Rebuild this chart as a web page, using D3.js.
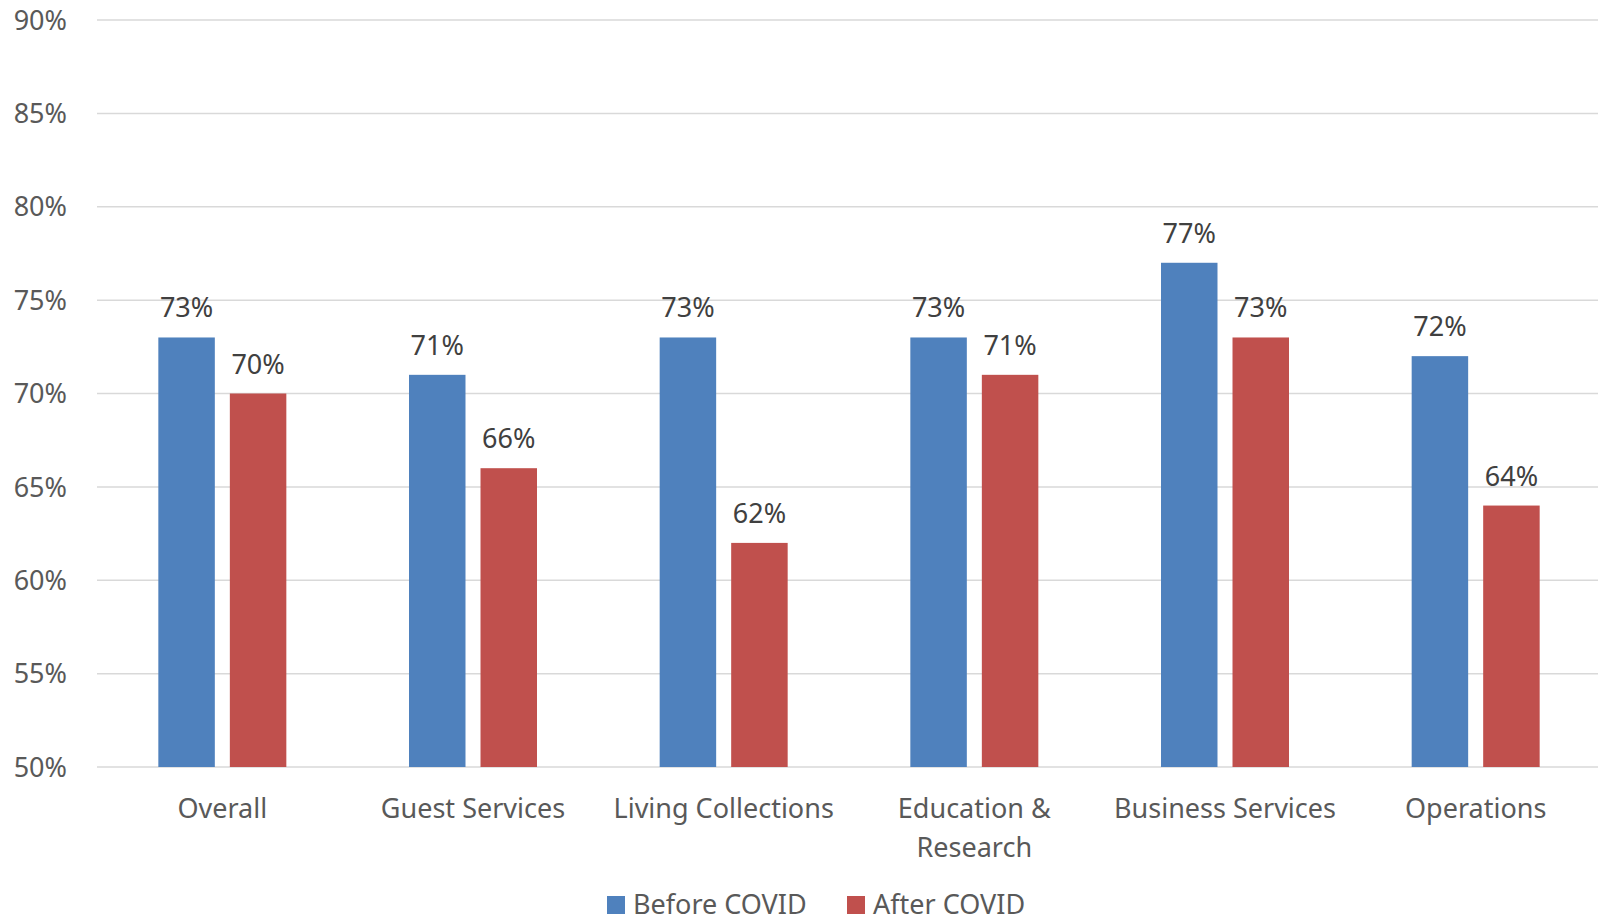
<!DOCTYPE html>
<html>
<head>
<meta charset="utf-8">
<script src="https://cdn.jsdelivr.net/npm/d3@7"></script>
<style>
  html, body { margin: 0; padding: 0; background: #fff; }
  svg { display: block; font-family: 'Noto Sans', sans-serif; }
</style>
</head>
<body>
<svg id="chart" width="1598" height="922"></svg>
<script>
// Données du graphique
const categories = ['Overall', 'Guest Services', 'Living Collections', 'Education & Research', 'Business Services', 'Operations']
const categoryLines = [['Overall'], ['Guest Services'], ['Living Collections'], ['Education &', 'Research'], ['Business Services'], ['Operations']]
const seriesNames = ['Before COVID', 'After COVID']
const beforeValues = [0.73, 0.71, 0.73, 0.73, 0.77, 0.72]
const afterValues = [0.70, 0.66, 0.62, 0.71, 0.73, 0.64]
const yTicks = [0.5, 0.55, 0.6, 0.65, 0.7, 0.75, 0.8, 0.85, 0.9]

const colors = { 'Before COVID': '#4f81bd', 'After COVID': '#c0504d' }

const svg = d3.select('#chart')
const plotLeft = 97
const plotRight = 1601 // la zone de tracé dépasse légèrement le bord droit
const plotTop = 20
const plotBottom = 767

// Échelles
const x0 = d3.scaleBand().domain(categories).range([plotLeft, plotRight]).padding(0)
const groupWidth = 128
const x1 = d3.scaleBand().domain(seriesNames).range([0, groupWidth]).paddingInner(0.21)
const y = d3.scaleLinear().domain([0.5, 0.9]).range([plotBottom, plotTop])

// Lignes de grille
svg.append('g')
  .selectAll('line')
  .data(yTicks)
  .join('line')
  .attr('x1', plotLeft)
  .attr('x2', 1598)
  .attr('y1', d => y(d))
  .attr('y2', d => y(d))
  .attr('stroke', '#d9d9d9')
  .attr('stroke-width', 1.5)

// Axe Y
const yAxis = svg.append('g')
  .attr('transform', 'translate(67,0)')
  .call(d3.axisLeft(y).tickValues(yTicks).tickFormat(d3.format('.0%')).tickSize(0).tickPadding(0))
yAxis.select('.domain').remove()
yAxis.selectAll('text')
  .attr('fill', '#595959')
  .style('font-size', '27px')
  .style('font-family', "'Noto Sans', sans-serif")
  .attr('dy', '0.34em')

// Barres
const rows = categories.map((c, i) => ({ category: c, values: [
  { name: 'Before COVID', value: beforeValues[i] },
  { name: 'After COVID', value: afterValues[i] }
] }))

const groups = svg.append('g')
  .selectAll('g')
  .data(rows)
  .join('g')
  .attr('transform', d => `translate(${x0(d.category) + x0.bandwidth() / 2 - groupWidth / 2},0)`)

groups.selectAll('rect')
  .data(d => d.values)
  .join('rect')
  .attr('x', d => x1(d.name))
  .attr('y', d => y(d.value))
  .attr('width', x1.bandwidth())
  .attr('height', d => plotBottom - y(d.value))
  .attr('fill', d => colors[d.name])

// Étiquettes de valeurs
groups.selectAll('text')
  .data(d => d.values)
  .join('text')
  .attr('x', d => x1(d.name) + x1.bandwidth() / 2)
  .attr('y', d => y(d.value) - 20)
  .attr('text-anchor', 'middle')
  .attr('fill', '#404040')
  .style('font-size', '27px')
  .text(d => d3.format('.0%')(d.value))

// Étiquettes de catégories
svg.append('g')
  .selectAll('text')
  .data(categories)
  .join('text')
  .attr('x', d => x0(d) + x0.bandwidth() / 2)
  .attr('y', 818)
  .attr('text-anchor', 'middle')
  .attr('fill', '#595959')
  .style('font-size', '27px')
  .each(function (d, i) {
    d3.select(this).selectAll('tspan')
      .data(categoryLines[i])
      .join('tspan')
      .attr('x', x0(d) + x0.bandwidth() / 2)
      .attr('dy', (t, j) => j === 0 ? 0 : 39)
      .text(t => t)
  })

// Légende (remontée un peu pour ne pas être coupée en bas)
const legendX = [607, 847]
const legend = svg.append('g')
  .selectAll('g')
  .data(seriesNames)
  .join('g')
  .attr('transform', (d, i) => `translate(${legendX[i]},896)`)

legend.append('rect')
  .attr('width', 18)
  .attr('height', 18)
  .attr('fill', d => colors[d])

legend.append('text')
  .attr('x', 26)
  .attr('y', 18)
  .attr('fill', '#595959')
  .style('font-size', '27px')
  .text(d => d)
</script>
</body>
</html>
